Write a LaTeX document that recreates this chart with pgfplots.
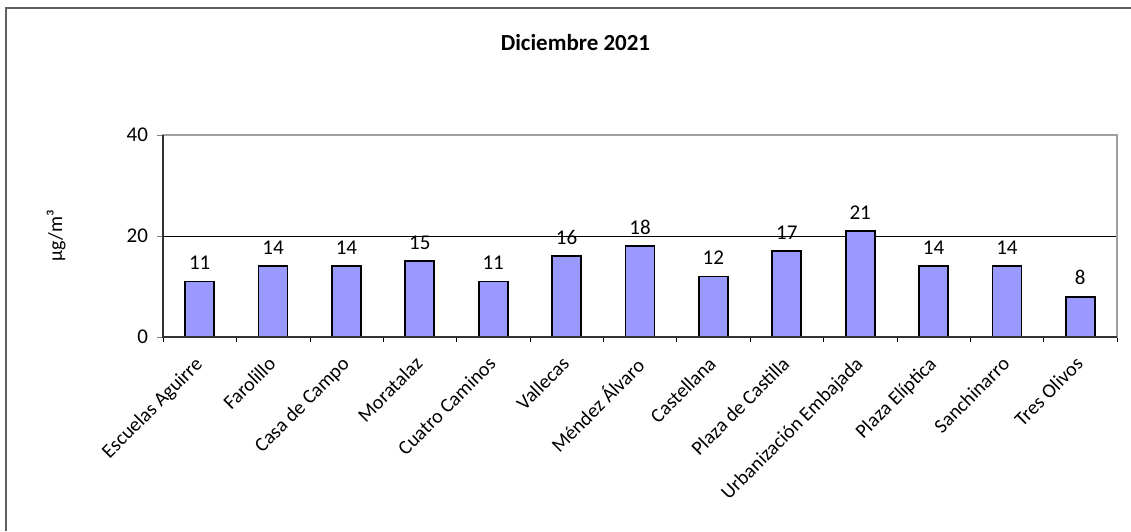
\documentclass[border=0pt]{standalone}
\usepackage{fontspec}
\setmainfont{Carlito}
\usepackage{pgfplots}
\pgfplotsset{compat=1.18}
\definecolor{barblue}{HTML}{9999FF}
\definecolor{framegray}{HTML}{606060}
\definecolor{boxgray}{HTML}{A0A0A0}

\begin{document}
\begin{tikzpicture}
% picture area, 1px = 0.5pt
\useasboundingbox (0,0) rectangle (565.5pt,265.5pt);
\draw[framegray, line width=1pt] (3pt,0) -- (3pt,261.5pt) -- (565.5pt,261.5pt);
\node[font=\fontsize{11.5}{13}\selectfont\bfseries] at (287.75pt,244pt) {Diciembre 2021};

\begin{axis}[
  at={(81.5pt,97pt)}, anchor=south west,
  scale only axis,
  width=477pt, height=101pt,
  xmin=-0.5, xmax=12.5,
  ymin=0, ymax=40,
  ytick={0,20,40},
  xtick={0,...,12},
  xticklabels={Escuelas Aguirre, Farolillo, Casa de Campo, Moratalaz, Cuatro Caminos, Vallecas, Méndez Álvaro, Castellana, Plaza de Castilla, Urbanización Embajada, Plaza Elíptica, Sanchinarro, Tres Olivos},
  minor xtick={-0.5,0.5,...,12.5},
  major x tick style={draw=none},
  minor x tick style={black},
  minor tick length=2.5pt,
  major tick length=3pt,
  tick align=outside,
  xtick pos=bottom, ytick pos=left,
  ymajorgrids, grid style={black, line width=0.5pt},
  axis line style={boxgray, line width=0.8pt},
  ticklabel style={font=\fontsize{10.5}{12}\selectfont},
  yticklabel style={xshift=-1pt},
  /pgf/number format/assume math mode=true,
  xticklabel style={font=\fontsize{10}{11}\selectfont, xshift=-3pt, yshift=-6pt, rotate=45, anchor=north east, inner sep=0pt},
  ylabel={µg/m³},
  ylabel style={font=\fontsize{10.5}{12}\selectfont},
  every axis y label/.style={at={(axis description cs:-0.112,0.5)}, rotate=90, anchor=center},
  nodes near coords,
  every node near coord/.append style={font=\fontsize{10.5}{12}\selectfont, black, yshift=2pt},
  ybar, bar width=14.5pt,
  clip=false,
]
\addplot[fill=barblue, draw=black, line width=0.9pt] coordinates {
  (0,11) (1,14) (2,14) (3,15) (4,11) (5,16) (6,18)
  (7,12) (8,17) (9,21) (10,14) (11,14) (12,8)
};
\draw[black!80, line width=0.8pt] (rel axis cs:0,1) -- (rel axis cs:0,0) -- (rel axis cs:1,0);
\end{axis}
\end{tikzpicture}
\end{document}
